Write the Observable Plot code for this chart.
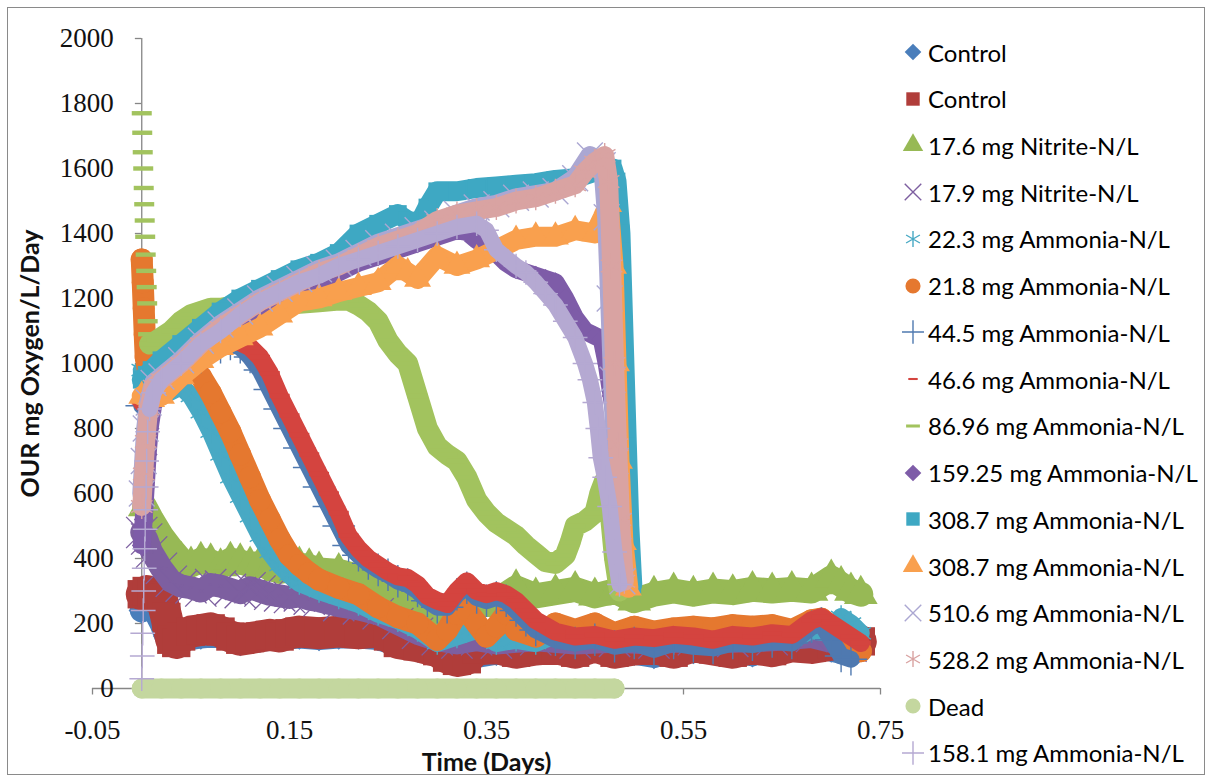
<!DOCTYPE html>
<html>
<head>
<meta charset="utf-8">
<script src="https://cdn.jsdelivr.net/npm/d3@7"></script>
<script src="https://cdn.jsdelivr.net/npm/@observablehq/plot@0.6"></script>
<style>
  body { margin: 0; background: #fff; }
  #chart { position: relative; width: 1210px; height: 778px; overflow: hidden; background: #fff; }
  #frame { position: absolute; left: 7px; top: 7px; width: 1198px; height: 768px; border: 1.5px solid #8a8a8a; box-sizing: border-box; pointer-events: none; }
  .item { position: absolute; left: 902px; height: 28px; display: flex; align-items: center; font-family: Lato, "Open Sans", sans-serif; font-size: 24px; color: #000; white-space: nowrap; }
  .item svg { flex: none; margin-right: 4px; }
</style>
</head>
<body>
<div id="chart"><div id="frame"></div></div>
<script>
// Axis ticks
const timeTicks = [-0.05, 0.15, 0.35, 0.55, 0.75];
const ourTicks = [0, 200, 400, 600, 800, 1000, 1200, 1400, 1600, 1800, 2000];

// Series labels, in plotting order
const seriesNames = [
  "Control", "Control", "17.6 mg Nitrite-N/L", "17.9 mg Nitrite-N/L",
  "22.3 mg Ammonia-N/L", "21.8 mg Ammonia-N/L", "44.5 mg Ammonia-N/L", "46.6 mg Ammonia-N/L",
  "86.96 mg Ammonia-N/L", "159.25 mg Ammonia-N/L", "308.7 mg Ammonia-N/L", "308.7 mg Ammonia-N/L",
  "510.6 mg Ammonia-N/L", "528.2 mg Ammonia-N/L", "Dead", "158.1 mg Ammonia-N/L"
];

// OUR readings: [time (days), mg O2/L/day]
const control1 = [[0,240],[0.005,250],[0.01,245],[0.015,230],[0.02,200],[0.025,160],[0.03,140],[0.04,150],[0.06,160],[0.08,165],[0.1,140],[0.12,150],[0.14,155],[0.16,160],[0.18,155],[0.2,160],[0.22,160],[0.24,155],[0.26,135],[0.28,120],[0.3,105],[0.32,85],[0.34,100],[0.36,110],[0.38,105],[0.4,120],[0.42,115],[0.44,105],[0.46,120],[0.48,125],[0.5,110],[0.52,100],[0.54,120],[0.56,115],[0.58,125],[0.6,120],[0.62,105],[0.64,125],[0.66,130],[0.68,140],[0.7,120],[0.72,105]];
const control2 = [[0,290],[0.005,300],[0.01,295],[0.015,285],[0.02,280],[0.025,220],[0.03,150],[0.035,140],[0.04,160],[0.05,175],[0.06,180],[0.07,185],[0.08,175],[0.09,160],[0.1,150],[0.11,155],[0.12,160],[0.13,165],[0.14,160],[0.15,170],[0.16,175],[0.18,170],[0.2,175],[0.22,170],[0.24,175],[0.25,160],[0.26,140],[0.28,130],[0.3,115],[0.31,95],[0.32,85],[0.33,90],[0.34,120],[0.36,125],[0.38,110],[0.4,120],[0.42,125],[0.44,110],[0.46,130],[0.48,110],[0.5,120],[0.52,125],[0.54,110],[0.56,130],[0.58,120],[0.6,110],[0.62,125],[0.64,115],[0.66,130],[0.68,125],[0.7,135],[0.72,150],[0.73,145]];
const nitrite176 = [[0.003,560],[0.01,520],[0.02,470],[0.03,430],[0.04,395],[0.05,380],[0.06,395],[0.07,390],[0.08,375],[0.09,395],[0.1,390],[0.11,380],[0.12,385],[0.13,370],[0.14,360],[0.15,365],[0.16,380],[0.17,375],[0.18,365],[0.2,360],[0.22,345],[0.24,330],[0.26,280],[0.28,240],[0.3,210],[0.32,225],[0.34,250],[0.36,270],[0.38,310],[0.4,285],[0.42,295],[0.44,305],[0.46,285],[0.48,300],[0.5,270],[0.52,290],[0.54,300],[0.56,290],[0.58,300],[0.6,295],[0.62,305],[0.64,300],[0.66,305],[0.68,300],[0.7,340],[0.71,320],[0.72,300],[0.73,290]];
const nitrite179 = [[0,480],[0.005,460],[0.01,420],[0.02,370],[0.03,330],[0.04,315],[0.05,310],[0.06,300],[0.07,320],[0.08,315],[0.09,305],[0.1,295],[0.11,310],[0.12,300],[0.13,290],[0.14,285],[0.15,280],[0.16,285],[0.17,275],[0.18,270],[0.2,255],[0.22,245],[0.24,230],[0.26,200],[0.28,170],[0.3,150],[0.32,140],[0.34,150],[0.36,140],[0.4,150],[0.44,140],[0.48,145],[0.52,140],[0.56,150],[0.6,145],[0.64,150],[0.68,160],[0.72,130]];
const ammonia223 = [[0,980],[0.005,960],[0.01,920],[0.02,900],[0.03,915],[0.04,930],[0.05,900],[0.06,850],[0.07,790],[0.08,720],[0.09,650],[0.1,590],[0.11,530],[0.12,470],[0.13,420],[0.14,380],[0.15,350],[0.16,325],[0.18,300],[0.2,280],[0.22,260],[0.24,230],[0.26,210],[0.28,180],[0.3,140],[0.32,160],[0.34,180],[0.36,140],[0.38,150],[0.4,140],[0.42,165],[0.44,150],[0.46,160],[0.48,145],[0.5,155],[0.52,150],[0.54,140],[0.56,155],[0.58,150],[0.6,160],[0.62,150],[0.64,155],[0.66,150],[0.68,180],[0.7,170],[0.71,220],[0.72,200],[0.73,170]];
const ammonia218 = [[0,1320],[0.001,1250],[0.002,1170],[0.003,1090],[0.004,1020],[0.008,950],[0.015,910],[0.025,920],[0.035,950],[0.045,980],[0.05,985],[0.06,960],[0.07,910],[0.08,850],[0.09,790],[0.1,720],[0.11,650],[0.12,580],[0.13,520],[0.14,460],[0.15,410],[0.16,380],[0.17,355],[0.18,335],[0.2,310],[0.22,290],[0.24,250],[0.26,220],[0.28,200],[0.3,150],[0.31,180],[0.32,230],[0.33,240],[0.34,200],[0.35,160],[0.36,190],[0.37,230],[0.38,180],[0.4,160],[0.42,200],[0.44,180],[0.46,200],[0.48,170],[0.5,190],[0.52,175],[0.54,185],[0.56,190],[0.58,185],[0.6,195],[0.62,190],[0.64,195],[0.66,180],[0.68,210],[0.69,215],[0.7,190],[0.71,160],[0.72,130],[0.73,115]];
const ammonia445 = [[0,870],[0.01,890],[0.02,920],[0.03,950],[0.04,980],[0.05,1000],[0.06,1020],[0.07,1040],[0.08,1050],[0.09,1060],[0.1,1050],[0.11,1020],[0.12,980],[0.13,920],[0.14,860],[0.15,800],[0.16,740],[0.17,680],[0.18,620],[0.19,560],[0.2,500],[0.21,440],[0.22,410],[0.23,385],[0.24,365],[0.25,350],[0.26,330],[0.27,320],[0.28,300],[0.29,270],[0.3,250],[0.31,250],[0.32,290],[0.33,310],[0.34,280],[0.35,270],[0.36,280],[0.37,270],[0.38,240],[0.39,210],[0.4,180],[0.42,150],[0.44,140],[0.46,150],[0.48,130],[0.5,140],[0.52,120],[0.54,140],[0.56,130],[0.58,125],[0.6,140],[0.62,135],[0.64,145],[0.66,140],[0.68,190],[0.69,200],[0.7,150],[0.71,100],[0.72,90]];
const ammonia466 = [[0,880],[0.01,900],[0.02,930],[0.03,960],[0.04,990],[0.05,1010],[0.06,1030],[0.07,1050],[0.08,1060],[0.09,1070],[0.1,1065],[0.11,1050],[0.12,1020],[0.13,970],[0.14,900],[0.15,840],[0.16,780],[0.17,720],[0.18,660],[0.19,600],[0.2,540],[0.21,470],[0.22,430],[0.23,400],[0.24,380],[0.25,360],[0.26,345],[0.27,340],[0.28,320],[0.29,285],[0.3,270],[0.31,260],[0.32,300],[0.33,330],[0.34,300],[0.35,290],[0.36,300],[0.37,290],[0.38,270],[0.39,240],[0.4,210],[0.42,175],[0.44,160],[0.46,165],[0.48,150],[0.5,160],[0.52,155],[0.54,165],[0.56,160],[0.58,150],[0.6,165],[0.62,160],[0.64,170],[0.66,165],[0.68,210],[0.69,220],[0.7,200],[0.72,160],[0.73,140]];
const ammonia8696Start = [[0,1770],[0.0005,1710],[0.001,1650],[0.0015,1600],[0.002,1540],[0.0025,1490],[0.003,1440],[0.0035,1390],[0.004,1335],[0.0045,1285],[0.005,1235],[0.0055,1185],[0.006,1130],[0.0065,1090]];
const ammonia8696 = [[0.008,1060],[0.015,1070],[0.02,1080],[0.03,1100],[0.04,1130],[0.05,1150],[0.06,1160],[0.07,1170],[0.08,1170],[0.09,1175],[0.1,1170],[0.12,1175],[0.14,1180],[0.16,1185],[0.18,1190],[0.2,1195],[0.21,1195],[0.22,1180],[0.23,1160],[0.24,1130],[0.25,1070],[0.26,1030],[0.27,1000],[0.28,900],[0.29,800],[0.3,745],[0.31,720],[0.32,700],[0.33,650],[0.34,580],[0.35,540],[0.36,510],[0.37,490],[0.38,470],[0.39,440],[0.4,415],[0.41,390],[0.42,385],[0.43,410],[0.435,450],[0.44,500],[0.45,515],[0.46,540],[0.465,600],[0.47,640],[0.475,560],[0.48,400],[0.485,300]];
const ammonia15925 = [[0,440],[0.002,520],[0.004,620],[0.006,720],[0.008,800],[0.012,880],[0.02,930],[0.04,990],[0.06,1040],[0.08,1090],[0.1,1130],[0.12,1170],[0.14,1200],[0.16,1230],[0.18,1250],[0.2,1280],[0.22,1310],[0.24,1330],[0.26,1350],[0.28,1370],[0.3,1390],[0.32,1410],[0.33,1405],[0.34,1380],[0.35,1360],[0.36,1340],[0.37,1310],[0.38,1290],[0.39,1280],[0.4,1270],[0.41,1260],[0.42,1250],[0.43,1200],[0.44,1140],[0.45,1100],[0.46,1085],[0.467,1075],[0.472,1000],[0.477,900],[0.482,800],[0.488,650],[0.493,520],[0.496,420],[0.498,320]];
const ammonia3087a = [[0,950],[0.005,965],[0.01,980],[0.02,1010],[0.04,1060],[0.06,1110],[0.08,1160],[0.1,1200],[0.12,1230],[0.14,1260],[0.16,1290],[0.18,1310],[0.2,1340],[0.22,1400],[0.24,1430],[0.26,1460],[0.27,1440],[0.28,1420],[0.29,1480],[0.3,1530],[0.32,1530],[0.34,1540],[0.36,1545],[0.38,1550],[0.4,1555],[0.42,1565],[0.44,1570],[0.46,1590],[0.47,1600],[0.478,1600],[0.482,1560],[0.486,1400],[0.489,1100],[0.492,800],[0.495,500],[0.498,320]];
const ammonia3087b = [[0,900],[0.01,890],[0.02,900],[0.04,960],[0.06,1010],[0.08,1050],[0.1,1080],[0.12,1110],[0.14,1150],[0.16,1190],[0.18,1200],[0.2,1220],[0.22,1235],[0.24,1250],[0.26,1300],[0.27,1280],[0.28,1260],[0.3,1330],[0.32,1300],[0.34,1320],[0.36,1350],[0.38,1380],[0.4,1390],[0.42,1390],[0.44,1410],[0.46,1400],[0.468,1450],[0.474,1490],[0.479,1300],[0.482,1000],[0.485,700],[0.489,450],[0.494,310]];
const ammonia5106 = [[0,600],[0.002,700],[0.004,800],[0.007,880],[0.012,940],[0.02,960],[0.04,1010],[0.06,1070],[0.08,1120],[0.1,1160],[0.12,1200],[0.14,1230],[0.16,1260],[0.18,1290],[0.2,1310],[0.22,1340],[0.24,1370],[0.26,1390],[0.28,1410],[0.3,1430],[0.32,1460],[0.34,1480],[0.36,1490],[0.38,1510],[0.4,1520],[0.42,1530],[0.44,1570],[0.455,1640],[0.462,1600],[0.468,1610],[0.472,1450],[0.475,1200],[0.478,950],[0.481,700],[0.484,500],[0.488,330]];
const ammonia5282 = [[0,560],[0.002,660],[0.004,760],[0.007,860],[0.012,930],[0.02,950],[0.04,1000],[0.06,1060],[0.08,1110],[0.1,1150],[0.12,1190],[0.14,1220],[0.16,1250],[0.18,1280],[0.2,1300],[0.22,1330],[0.24,1360],[0.26,1380],[0.28,1400],[0.3,1440],[0.32,1460],[0.34,1470],[0.36,1480],[0.38,1500],[0.4,1510],[0.42,1530],[0.44,1550],[0.45,1590],[0.46,1620],[0.47,1640],[0.474,1560],[0.477,1300],[0.48,1000],[0.483,750],[0.486,520],[0.49,330]];
const dead = [[0,0],[0.02,0],[0.04,0],[0.06,0],[0.08,0],[0.1,0],[0.12,0],[0.14,0],[0.16,0],[0.18,0],[0.2,0],[0.22,0],[0.24,0],[0.26,0],[0.28,0],[0.3,0],[0.32,0],[0.34,0],[0.36,0],[0.38,0],[0.4,0],[0.42,0],[0.44,0],[0.46,0],[0.48,0]];
const ammonia1581Start = [[0,30],[0.0005,100],[0.001,170],[0.0015,240],[0.002,300],[0.0025,370],[0.003,430],[0.0035,490],[0.004,550],[0.0045,620],[0.005,700],[0.006,790]];
const ammonia1581 = [[0.008,860],[0.012,910],[0.02,950],[0.04,1000],[0.06,1060],[0.08,1100],[0.1,1150],[0.12,1190],[0.14,1220],[0.16,1250],[0.18,1270],[0.2,1300],[0.22,1320],[0.24,1340],[0.26,1360],[0.28,1380],[0.3,1400],[0.32,1420],[0.34,1430],[0.35,1410],[0.36,1350],[0.38,1300],[0.39,1280],[0.4,1250],[0.41,1215],[0.42,1180],[0.43,1130],[0.44,1080],[0.45,1000],[0.455,950],[0.46,880],[0.463,800],[0.466,710],[0.47,650],[0.475,560],[0.48,420],[0.485,320]];

// Series runs: [marker-only leading points, connected points]
const seriesData = [
  [[], control1], [[], control2], [[], nitrite176], [[], nitrite179],
  [[], ammonia223], [[], ammonia218], [[], ammonia445], [[], ammonia466],
  [ammonia8696Start, ammonia8696], [[], ammonia15925], [[], ammonia3087a], [[], ammonia3087b],
  [[], ammonia5106], [[], ammonia5282], [[], dead], [ammonia1581Start, ammonia1581]
];

// Styling
const seriesColors = ["#4A7EBB","#B03D3A","#97B955","#7D5FA0","#48A9C4","#E5782F","#4F79B0","#D4443F",
                      "#A2C35E","#7E5CA8","#3EA8C3","#F9A04E","#ABA7D2","#D9A3A2","#C4D79F","#B5A9D2"];
const bandWidths = [24, 32, 25, 23, 18, 22, 17, 18, 21, 18, 20, 20, 19, 19, 20, 16];

// Excel-style marker shapes
const symDiamond = { draw(ctx, size) { const r = Math.sqrt(size / Math.PI) * 1.1; ctx.moveTo(0, -r); ctx.lineTo(r, 0); ctx.lineTo(0, r); ctx.lineTo(-r, 0); ctx.closePath(); } };
const symDash = { draw(ctx, size) { const r = Math.sqrt(size / Math.PI); ctx.moveTo(-r, -r * 0.22); ctx.lineTo(r, -r * 0.22); ctx.lineTo(r, r * 0.22); ctx.lineTo(-r, r * 0.22); ctx.closePath(); } };
const symbolKinds = [
  [symDiamond, true], [d3.symbolSquare, true], [d3.symbolTriangle, true], [d3.symbolTimes, false],
  [d3.symbolAsterisk, false], [d3.symbolCircle, true], [d3.symbolPlus, false], [symDash, true],
  [symDash, true], [symDiamond, true], [d3.symbolSquare, true], [d3.symbolTriangle, true],
  [d3.symbolTimes, false], [d3.symbolAsterisk, false], [d3.symbolCircle, true], [d3.symbolPlus, false]
];

const axisGray = "#868686";
const tickFont = "Liberation Serif, Times New Roman, serif";
const titleFont = "Lato, Open Sans, sans-serif";

const marks = [];
seriesData.forEach(([lead, run], i) => {
  const color = seriesColors[i];
  const w = bandWidths[i];
  const [sym, filled] = symbolKinds[i];
  marks.push(Plot.line(run, {
    x: d => d[0], y: d => d[1], stroke: color, strokeWidth: w,
    strokeLinejoin: "round", strokeLinecap: "round"
  }));
  const pts = lead.concat(run);
  const isDash = sym === symDash;
  if (filled) {
    marks.push(Plot.dot(pts, {
      x: d => d[0], y: d => d[1], symbol: sym, fill: color, stroke: "none",
      r: isDash ? 10 : w * 0.5
    }));
  } else {
    marks.push(Plot.dot(pts, {
      x: d => d[0], y: d => d[1], symbol: sym, stroke: color, fill: "none",
      strokeWidth: 1.4, r: lead.length ? 8 : w * 0.62
    }));
  }
});

const chart = Plot.plot({
  width: 1210,
  height: 778,
  marginLeft: 92,
  marginRight: 330,
  marginTop: 38,
  marginBottom: 90,
  x: { domain: [-0.05, 0.75], axis: null },
  y: { domain: [0, 2000], axis: null },
  style: { background: "transparent", overflow: "visible" },
  marks: [
    // axes drawn through the origin, Excel style
    Plot.ruleY([0], { x1: -0.05, x2: 0.75, stroke: axisGray, strokeWidth: 1.3 }),
    Plot.ruleX(timeTicks, { x: d => d, y1: 0, y2: -20, stroke: axisGray, strokeWidth: 1.3 }),
    Plot.ruleX([0], { y1: 0, y2: 2000, stroke: axisGray, strokeWidth: 1.3 }),
    Plot.ruleY(ourTicks, { y: d => d, x1: -0.0065, x2: 0, stroke: axisGray, strokeWidth: 1.3 }),
    Plot.text(ourTicks, { x: 0, y: d => d, text: d => String(d), dx: -28, textAnchor: "end",
      fontSize: 27, fontFamily: tickFont, fill: "#111" }),
    Plot.text(timeTicks, { x: d => d, y: 0, text: d => d.toFixed(2), dy: 42,
      fontSize: 27, fontFamily: tickFont, fill: "#111" }),
    Plot.text(["OUR mg Oxygen/L/Day"], { text: d => d, frameAnchor: "left", dx: -62, rotate: -90,
      textAnchor: "middle", lineAnchor: "middle",
      fontSize: 25, fontWeight: "bold", fontFamily: titleFont, fill: "#111" }),
    Plot.text(["Time (Days)"], { text: d => d, frameAnchor: "bottom", dy: 74,
      textAnchor: "middle", lineAnchor: "middle",
      fontSize: 25, fontWeight: "bold", fontFamily: titleFont, fill: "#111" }),
    ...marks
  ]
});

const root = document.getElementById("chart");
chart.style.position = "absolute";
chart.style.left = "0px";
chart.style.top = "0px";
root.insertBefore(chart, root.firstChild);

// Legend at the right of the plot area
const rowStep = 46.73;
seriesNames.forEach((name, i) => {
  const [sym, filled] = symbolKinds[i];
  const color = seriesColors[i];
  const item = document.createElement("div");
  item.className = "item";
  item.style.top = (52 + i * rowStep - 14) + "px";
  const size = sym === symDash ? (i === 8 ? 150 : 70) : 180;
  const path = d3.symbol().type(sym).size(size)();
  const paint = filled ? `fill="${color}"` : `fill="none" stroke="${color}" stroke-width="1.4"`;
  item.innerHTML = `<svg width="22" height="28" viewBox="-11 -14 22 28"><path d="${path}" ${paint}/></svg><span>${name}</span>`;
  root.appendChild(item);
});
</script>
</body>
</html>
